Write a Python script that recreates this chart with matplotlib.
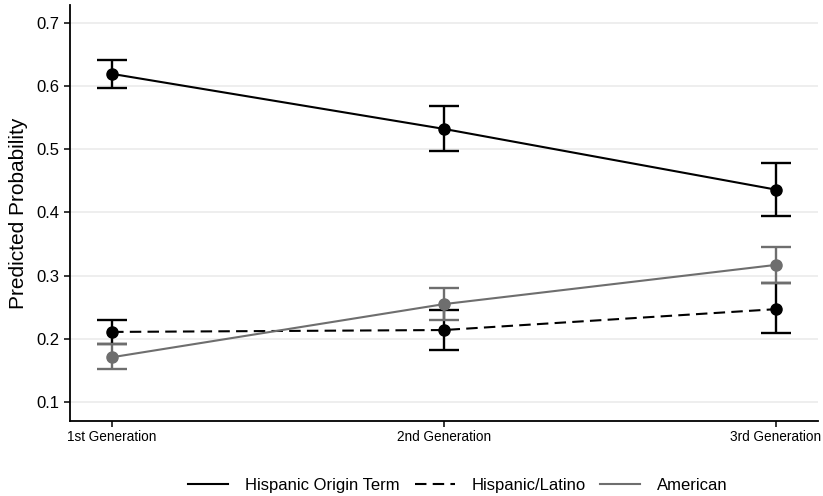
import numpy as np
import matplotlib
matplotlib.use("Agg")
import matplotlib.pyplot as plt

plt.rcParams['font.family'] = ['Liberation Sans', 'DejaVu Sans']

# Data
generations = ['1st Generation', '2nd Generation', '3rd Generation']
series_names = ['Hispanic Origin Term', 'Hispanic/Latino', 'American']

origin_mean = [0.619, 0.532, 0.436]
origin_low = [0.597, 0.497, 0.395]
origin_high = [0.641, 0.568, 0.478]

latino_mean = [0.211, 0.214, 0.247]
latino_low = [0.192, 0.182, 0.209]
latino_high = [0.230, 0.246, 0.288]

american_mean = [0.171, 0.255, 0.317]
american_low = [0.152, 0.230, 0.288]
american_high = [0.192, 0.280, 0.346]

y_ticks = [0.1, 0.2, 0.3, 0.4, 0.5, 0.6, 0.7]

fig = plt.figure(figsize=(8.23, 4.96), dpi=100)
ax = fig.add_axes([0.085, 0.151, 0.909, 0.839])

x = np.arange(1, len(generations) + 1)
styles = [
    (origin_mean, origin_low, origin_high, 'black', '-'),
    (latino_mean, latino_low, latino_high, 'black', (0, (5.5, 3))),
    (american_mean, american_low, american_high, '#6e6e6e', '-'),
]

handles = []
for name, (mean, low, high, color, ls) in zip(series_names, styles):
    mean = np.array(mean)
    yerr = [mean - np.array(low), np.array(high) - mean]
    ax.errorbar(x, mean, yerr=yerr, fmt='none', ecolor=color, elinewidth=1.7,
                capsize=11, capthick=1.7, zorder=3)
    line, = ax.plot(x, mean, color=color, linestyle=ls, linewidth=1.5, zorder=4,
                    label=name)
    ax.plot(x, mean, 'o', color=color, markersize=8, zorder=5)
    handles.append(line)

ax.set_xlim(0.873, 3.127)
ax.set_ylim(0.07, 0.728)
ax.set_xticks(x)
ax.set_xticklabels(generations, fontsize=9.8)
ax.set_yticks(y_ticks)
ax.set_yticklabels([f'{t:.1f}' for t in y_ticks], fontsize=12)
ax.set_ylabel('Predicted Probability', fontsize=15, labelpad=6)

ax.yaxis.grid(True, color='#ebebeb', linewidth=1.2)
ax.set_axisbelow(True)
for side in ['top', 'right']:
    ax.spines[side].set_visible(False)
for side in ['left', 'bottom']:
    ax.spines[side].set_linewidth(1.3)
ax.tick_params(length=4, width=1.1, colors='black')
ax.tick_params(axis='x', pad=2.5)

fig.legend(handles=handles, loc='center', bbox_to_anchor=(0.5565, 0.022), ncol=3,
           frameon=False, fontsize=12, handlelength=2.4, handletextpad=1.0,
           columnspacing=0.9)

fig.savefig('out.png', dpi=100)
